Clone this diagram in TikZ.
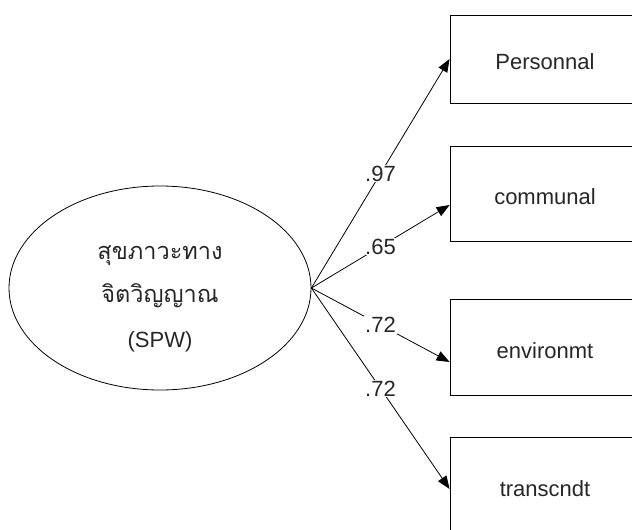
\documentclass[tikz,border=0pt]{standalone}
\usepackage{fontspec}
\setmainfont{Liberation Sans}
\newfontfamily\thaifont[Script=Thai]{Loma}
\usetikzlibrary{arrows.meta,calc,shapes.geometric}
\begin{document}
\begin{tikzpicture}[x=1pt,y=-1pt,
  txt/.style={font=\fontsize{22}{26}\selectfont, text=black!85},
  thai/.style={font=\fontsize{23.5}{26}\thaifont, text=black!85},
  latent/.style={draw, ellipse, line width=0.8pt, minimum width=302pt, minimum height=204pt, inner sep=0pt},
  obs/.style={draw, rectangle, line width=0.8pt, minimum width=190pt, inner sep=0pt},
  path/.style={line width=0.8pt, -{Triangle[length=13pt,width=10pt]}},
  coef/.style={txt, fill=white, inner sep=1pt, pos=0.5}]
\useasboundingbox (0,0) rectangle (632,530);
\clip (0,0) rectangle (632,530);
\node[latent] (spw) at (160,288) {};
\node[thai] (t1) at (160,259) [anchor=base] {สุขภาวะทาง};
\node[thai] (t2) at (160,302) [anchor=base] {จิตวิญญาณ};
\node[txt] (t3) at (160,347) [anchor=base] {(SPW)};
\node[obs, minimum height=88pt] (b1) at (545,59) {};
\node[obs, minimum height=95pt] (b2) at (545,194) {};
\node[obs, minimum height=96pt] (b3) at (545,347) {};
\node[obs, minimum height=104pt] (b4) at (545,489) {};
\node[txt] (l1) at (545,62) {Personnal};
\node[txt] (l2) at (545,197) {communal};
\node[txt] (l3) at (545,351) {environmt};
\node[txt] (l4) at (545,489) {transcndt};
\draw[path] (spw.east) -- (b1.west) node[coef] {.97};
\draw[path] (spw.east) -- ($(b2.west)+(0,11)$) node[coef] {.65};
\draw[path] (spw.east) -- ($(b3.west)+(0,15)$) node[coef] {.72};
\draw[path] (spw.east) -- (b4.west) node[coef] {.72};
\end{tikzpicture}
\end{document}
